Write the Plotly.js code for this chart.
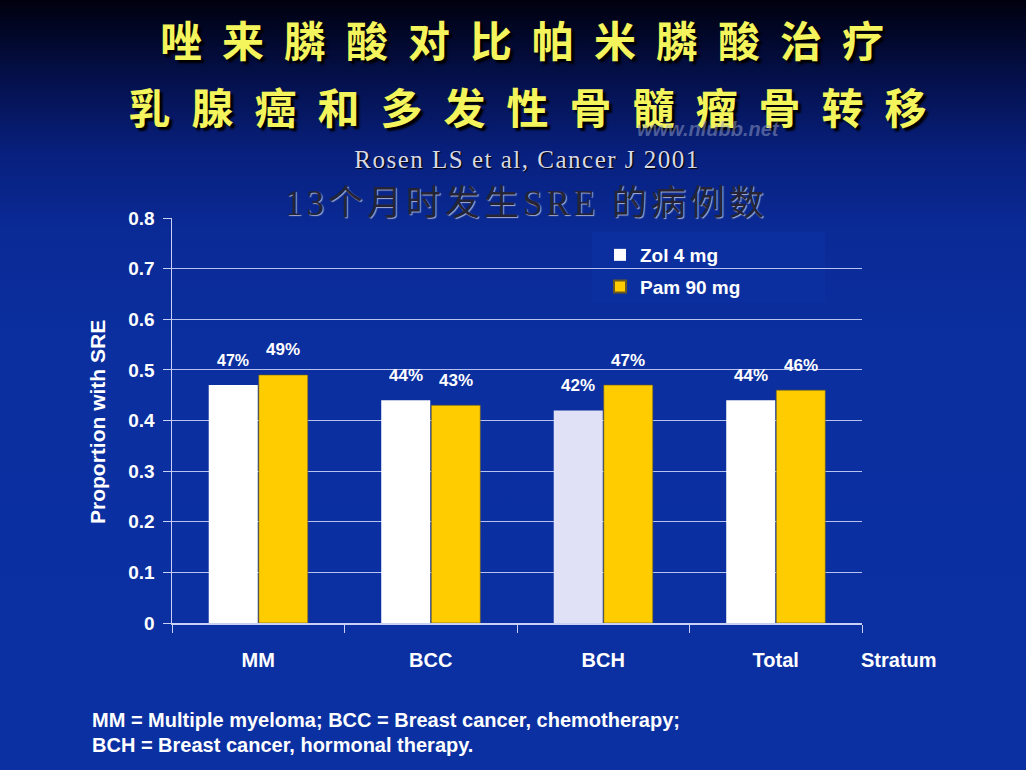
<!DOCTYPE html>
<html><head><meta charset="utf-8">
<script src="https://cdn.plot.ly/plotly-3.0.1.min.js"></script>
<style>
html,body{margin:0;padding:0;width:1026px;height:770px;overflow:hidden;}
body{background:linear-gradient(180deg,#00000e 0%,#04104a 10%,#08207e 20%,#0a2a96 30%,#0b2f9f 45%,#0b30a2 100%);}
#chart{width:1026px;height:770px;}
.annotation[data-index="0"] .annotation-text{letter-spacing:20px;}
.annotation[data-index="1"] .annotation-text{letter-spacing:21px;}
.annotation[data-index="3"] .annotation-text{letter-spacing:1.5px;}
.annotation[data-index="4"] .annotation-text{letter-spacing:4px;}
</style></head><body><div id="chart"></div>
<script>
const categories = ['MM', 'BCC', 'BCH', 'Total'];
const seriesNames = ['Zol 4 mg', 'Pam 90 mg'];
const zolValues = [0.47, 0.44, 0.42, 0.44];
const pamValues = [0.49, 0.43, 0.47, 0.46];
const yTickValues = [0, 0.1, 0.2, 0.3, 0.4, 0.5, 0.6, 0.7, 0.8];
const yTickLabels = ['0', '0.1', '0.2', '0.3', '0.4', '0.5', '0.6', '0.7', '0.8'];
const titleLines = ['唑来膦酸对比帕米膦酸治疗', '乳腺癌和多发性骨髓瘤骨转移'];
const citation = 'Rosen LS et al, Cancer J 2001';
const subtitle = '13个月时发生SRE 的病例数';
const footnotes = ['MM = Multiple myeloma; BCC = Breast cancer, chemotherapy;', 'BCH = Breast cancer, hormonal therapy.'];

const zolColors = ['#ffffff', '#ffffff', '#e0e0f6', '#ffffff'];
const pamColor = '#ffcc00';
const W = 1026, H = 770, L = 172, R = 164, T = 218, B = 147;
const px = x => (x - L) / (W - L - R);
const py = y => (H - B - y) / (H - T - B);
const white = '#ffffff';
const sans = 'Liberation Sans, Arial, sans-serif';

const traces = [
  {type: 'bar', name: seriesNames[0], x: categories, y: zolValues, legendgroup: 'zol',
   marker: {color: zolColors, line: {width: 0}}, hoverinfo: 'none'},
  {type: 'bar', name: seriesNames[1], x: categories, y: pamValues, legendgroup: 'pam',
   marker: {color: pamColor, line: {color: '#6a5a20', width: 0.6}}, hoverinfo: 'none'}
];

function note(text, xp, yp, font, extra) {
  return Object.assign({text: text, xref: 'paper', yref: 'paper', x: px(xp), y: py(yp),
    xanchor: 'center', yanchor: 'middle', showarrow: false, font: font}, extra || {});
}

const titleFont = {family: 'Noto Sans CJK SC', size: 42, color: '#f4f45c', weight: 900, shadow: '3px 3px 2px #000000'};
const annotations = [
  note('<b>' + titleLines[0] + '</b>', 532, 38, titleFont),
  note('<b>' + titleLines[1] + '</b>', 538, 105, titleFont),
  note('<b><i>www.nlubb.net</i></b>', 708, 129, {family: sans, size: 20, color: 'rgba(150,160,200,0.5)'}),
  note(citation, 527, 160, {family: 'Liberation Serif, Times New Roman, serif', size: 25, color: '#d8d8e6', shadow: '1px 1px 1px #000000'}),
  note(subtitle, 526, 203, {family: 'Liberation Serif, Noto Sans CJK SC, serif', size: 35, color: '#242436', shadow: '1px 1px 1px #a8b0d0'}),
  note('<b>Proportion with SRE</b>', 97, 422, {family: sans, size: 21, color: white}, {textangle: -90}),
  note('<b>Stratum</b>', 899, 660, {family: sans, size: 20, color: white}),
  note('<b>' + footnotes[0] + '</b>', 90, 720, {family: sans, size: 20, color: white}, {xanchor: 'left'}),
  note('<b>' + footnotes[1] + '</b>', 90, 745, {family: sans, size: 20, color: white}, {xanchor: 'left'})
];

categories.forEach((c, i) => {
  annotations.push({text: '<b>' + Math.round(zolValues[i] * 100) + '%</b>', x: c, y: zolValues[i], xref: 'x', yref: 'y',
    xanchor: 'center', yanchor: 'middle', xshift: -25, yshift: 25, showarrow: false,
    font: {family: sans, size: i === 0 ? 16 : 17, color: white}});
  annotations.push({text: '<b>' + Math.round(pamValues[i] * 100) + '%</b>', x: c, y: pamValues[i], xref: 'x', yref: 'y',
    xanchor: 'center', yanchor: 'middle', xshift: 25, yshift: 25, showarrow: false,
    font: {family: sans, size: 17, color: white}});
});

const layout = {
  width: W, height: H, autosize: false,
  margin: {l: L, r: R, t: T, b: B, pad: 0},
  paper_bgcolor: 'rgba(0,0,0,0)', plot_bgcolor: 'rgba(0,0,0,0)',
  barmode: 'group', bargap: 0.42, bargroupgap: 0.02,
  showlegend: true,
  legend: {x: px(600), y: py(236), xanchor: 'left', yanchor: 'top', bgcolor: 'rgba(0,0,0,0)',
    font: {family: sans, size: 19, color: white, weight: 'bold'}, tracegroupgap: 4, itemsizing: 'constant'},
  xaxis: {type: 'category', categoryarray: categories, showgrid: false, showline: true, linecolor: '#c8d0f4', linewidth: 1.5,
    ticks: 'outside', tickson: 'boundaries', ticklen: 8, tickcolor: '#c8d0f4', ticklabelstandoff: 18,
    tickfont: {family: sans, size: 20, color: white, weight: 'bold'}, fixedrange: true},
  yaxis: {range: [0, 0.8], tickvals: yTickValues, ticktext: yTickLabels, showgrid: true, gridcolor: '#b8c2ee', gridwidth: 1,
    zeroline: false, showline: true, linecolor: '#c8d0f4', linewidth: 1.5, ticks: 'outside', ticklen: 8, tickcolor: '#c8d0f4',
    ticklabelstandoff: 4, tickfont: {family: sans, size: 19, color: white, weight: 'bold'}, fixedrange: true},
  shapes: [{type: 'rect', xref: 'paper', yref: 'paper', x0: px(592), x1: px(825), y0: py(302), y1: py(232),
    fillcolor: '#0b2f9f', line: {width: 0}, layer: 'between'}],
  annotations: annotations
};

Plotly.newPlot('chart', traces, layout, {staticPlot: true, displayModeBar: false});
</script></body></html>
